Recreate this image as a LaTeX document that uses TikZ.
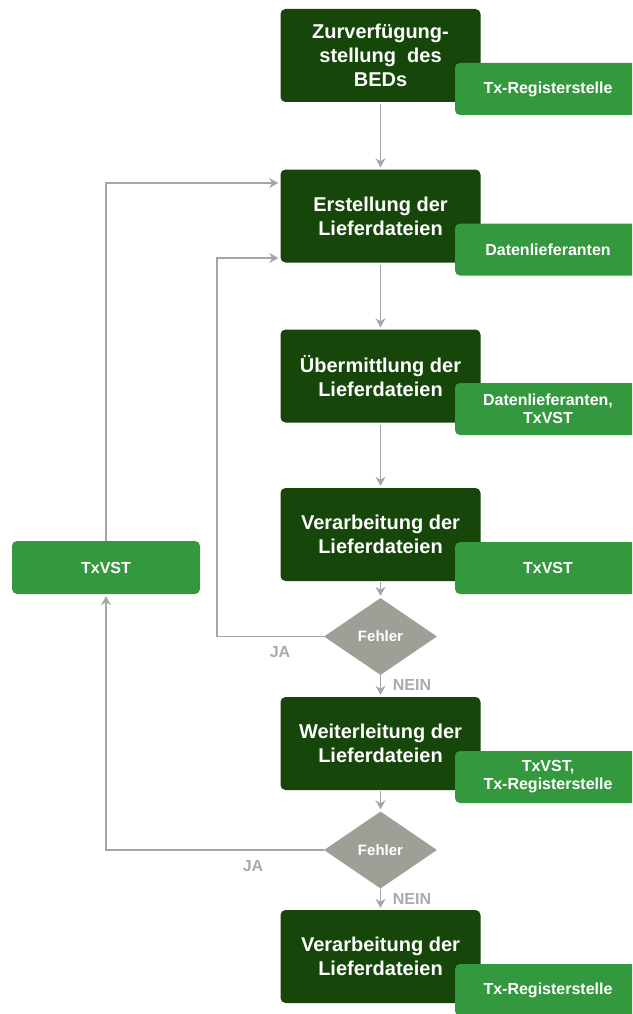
\documentclass[tikz,border=0pt]{standalone}
\usepackage{fontspec}
\setmainfont{Liberation Sans}
\usetikzlibrary{arrows.meta,shapes.geometric}
\definecolor{darkg}{RGB}{22,70,10}
\definecolor{lightg}{RGB}{52,152,62}
\definecolor{dgray}{RGB}{158,160,152}
\definecolor{lgray}{RGB}{165,165,165}
\definecolor{tgray}{RGB}{170,170,170}
\tikzset{
  mainbox/.style={fill=darkg, draw=none, rounded corners=5pt, minimum width=200pt, minimum height=93pt,
     text=white, align=center, font=\fontsize{20}{24}\selectfont\bfseries, inner sep=0pt},
  rolebox/.style={fill=lightg, draw=none, rounded corners=5pt, minimum width=186pt, minimum height=52pt,
     text=white, align=center, font=\fontsize{16}{18}\selectfont\bfseries, inner sep=0pt},
  decision/.style={diamond, fill=dgray, draw=none, aspect=1.47, minimum width=113pt, minimum height=77pt,
     inner sep=1pt, text=white, font=\fontsize{15}{17}\selectfont\bfseries},
  arr/.style={draw=lgray, line width=1.3pt, -{Stealth[length=9pt,width=10pt,inset=3pt]}, shorten >=2pt},
  ans/.style={text=tgray, font=\fontsize{16}{18}\selectfont\bfseries, inner sep=0pt}
}
\begin{document}
\begin{tikzpicture}[x=1pt,y=-1pt]
\clip (0,0) rectangle (632,1014);
\fill[white] (0,0) rectangle (632,1014);
% main boxes
\node[mainbox] (b1) at (380.5,55.5) {Zurverfügung-\\stellung~~des\\BEDs};
\node[mainbox] (b2) at (380.5,216) {Erstellung der\\Lieferdateien};
\node[mainbox] (b3) at (380.5,376) {Übermittlung der\\Lieferdateien};
\node[mainbox] (b4) at (380.5,534.5) {Verarbeitung der\\Lieferdateien};
\node[mainbox] (b5) at (380.5,743.5) {Weiterleitung der\\Lieferdateien};
\node[mainbox] (b6) at (380.5,956.5) {Verarbeitung der\\Lieferdateien};
% role boxes
\node[rolebox] (l1) at (548,89) {Tx-Registerstelle};
\node[rolebox] (l2) at (548,249.5) {Datenlieferanten};
\node[rolebox] (l3) at (548,409) {Datenlieferanten,\\TxVST};
\node[rolebox] (l4) at (548,568) {TxVST};
\node[rolebox] (l5) at (548,777) {TxVST,\\Tx-Registerstelle};
\node[rolebox] (l6) at (548,990) {Tx-Registerstelle};
\node[rolebox, minimum width=188pt, minimum height=53pt] (tx) at (106,567.5) {TxVST};
% decisions
\node[decision] (d1) at (380.5,636.5) {Fehler};
\node[decision] (d2) at (380.5,850) {Fehler};
% helper coordinates
\coordinate (c1) at (217,258);
\coordinate (c2) at (106,183);
% connectors
\draw[arr, shorten <=2pt] (b1) -- (b2);
\draw[arr, shorten <=2pt] (b2) -- (b3);
\draw[arr, shorten <=2pt] (b3) -- (b4);
\draw[arr, shorten <=1pt] (b4) -- (d1);
\draw[arr] (d1) -- (b5);
\draw[arr, shorten <=1pt] (b5) -- (d2);
\draw[arr] (d2) -- (b6);
\draw[arr] (d1.west) -- (d1.west -| c1) -- (c1) -- (c1 -| b2.west);
\draw[arr] (d2.west) -| (tx.south);
\draw[arr] (tx.north) |- (c2 -| b2.west);
% answer labels
\node[ans] (ja1) at (280,652) {JA};
\node[ans] (ja2) at (253,866) {JA};
\node[ans] (ne1) at (412,685) {NEIN};
\node[ans] (ne2) at (412,899) {NEIN};
\end{tikzpicture}
\end{document}
